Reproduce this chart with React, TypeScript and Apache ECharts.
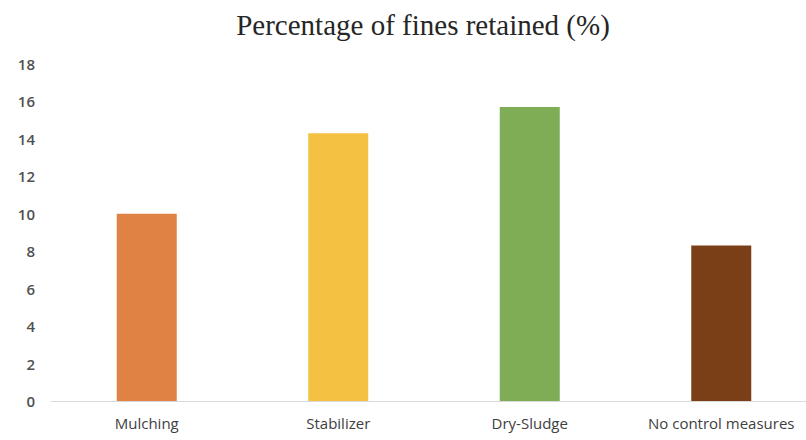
import React, { useEffect, useRef } from "react";
import * as echarts from "echarts";

const categories = ["Mulching", "Stabilizer", "Dry-Sludge", "No control measures"];
const values = [10.0, 14.3, 15.7, 8.3];
const barColors = ["#DF8244", "#F4C142", "#7FAD56", "#7B3F18"];
const yTicks = { min: 0, max: 18, interval: 2 };

export default function App() {
  const ref = useRef<HTMLDivElement>(null);
  useEffect(() => {
    if (!ref.current) return;
    document.body.style.margin = "0";
    document.body.style.overflow = "hidden";
    const chart = echarts.init(ref.current, undefined, { renderer: "svg" });
    chart.setOption({
      animation: false,
      backgroundColor: "#ffffff",
      title: {
        text: "Percentage of fines retained (%)",
        left: 418,
        textAlign: "center",
        top: 5,
        textStyle: {
          fontFamily: "Liberation Serif",
          fontSize: 29,
          fontWeight: "normal",
          color: "#262626",
        },
      },
      grid: { left: 51, width: 766, top: 64, height: 337, containLabel: false },
      xAxis: {
        type: "category",
        data: categories,
        axisLine: { show: true, lineStyle: { color: "#d9d9d9", width: 1 } },
        axisTick: { show: false },
        axisLabel: {
          margin: 14,
          fontFamily: "Open Sans",
          fontSize: 15,
          color: "#404040",
          interval: 0,
        },
      },
      yAxis: {
        type: "value",
        min: yTicks.min,
        max: yTicks.max,
        interval: yTicks.interval,
        splitLine: { show: false },
        axisLine: { show: false },
        axisTick: { show: false },
        axisLabel: {
          margin: 16,
          fontFamily: "Open Sans",
          fontSize: 15,
          fontWeight: 600,
          color: "#505050",
        },
      },
      series: [
        {
          type: "bar",
          data: values.map((v, i) => ({ value: v, itemStyle: { color: barColors[i] } })),
          barWidth: 60,
        },
      ],
    });
    return () => chart.dispose();
  }, []);
  return (
    <div style={{ width: 806, height: 440, overflow: "hidden", position: "relative" }}>
      <div ref={ref} style={{ width: 830, height: 440 }} />
    </div>
  );
}
